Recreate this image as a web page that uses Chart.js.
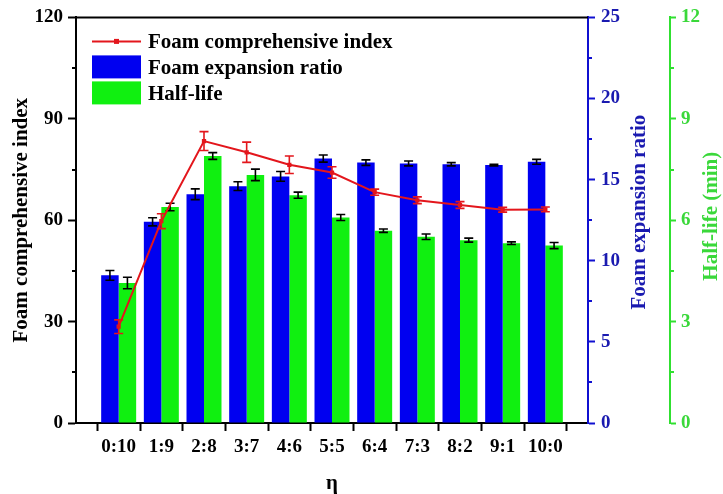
<!DOCTYPE html>
<html>
<head>
<meta charset="utf-8">
<script src="https://cdn.jsdelivr.net/npm/chart.js@4.4.1/dist/chart.umd.min.js"></script>
<style>
  html, body { margin: 0; padding: 0; background: #fff; }
  #wrap { width: 723px; height: 494px; }
</style>
</head>
<body>
<div id="wrap"><canvas id="chart" width="723" height="494"></canvas></div>
<script>
// ─── Data ─────────────────────────────────────────────────────────────────────

var ratios = ['0:10', '1:9', '2:8', '3:7', '4:6', '5:5', '6:4', '7:3', '8:2', '9:1', '10:0'];

var comprehensiveIndex = [28.5, 59.7, 83.4, 80.1, 76.4, 74.1, 68.3, 65.9, 64.5, 63.1, 63.2];
var comprehensiveErr   = [2.0, 2.2, 2.8, 3.0, 2.6, 1.7, 0.9, 1.0, 1.0, 0.7, 0.7];

var expansionRatio = [9.1, 12.4, 14.1, 14.6, 15.2, 16.3, 16.05, 16.0, 15.95, 15.9, 16.1];
var expansionErr   = [0.3, 0.25, 0.33, 0.27, 0.3, 0.22, 0.17, 0.15, 0.1, 0.05, 0.15];

var halfLife    = [4.14, 6.39, 7.9, 7.34, 6.74, 6.08, 5.69, 5.51, 5.41, 5.32, 5.25];
var halfLifeErr = [0.17, 0.11, 0.1, 0.17, 0.09, 0.09, 0.05, 0.08, 0.06, 0.04, 0.09];

var leftTicks  = { min: 0, max: 120, step: 30 };
var blueTicks  = { min: 0, max: 25, step: 5 };
var greenTicks = { min: 0, max: 12, step: 3 };

// ─── Style ────────────────────────────────────────────────────────────────────

var SERIF = "'Liberation Serif', 'Times New Roman', serif";
var RED = '#e3161c', BLUE = '#0000f0', GREEN = '#10f010';
var BLUE_AXIS = '#1010d0', BLUE_TEXT = '#1a1ab0';
var GREEN_AXIS = '#30e030', GREEN_TEXT = '#3ad83a';

// x axis gets an empty slot at each end so the groups sit one step in
var labels = [''].concat(ratios, ['']);
function pad(arr) { return [null].concat(arr, [null]); }

// ─── Plugins ──────────────────────────────────────────────────────────────────

var errorBars = {
    id: 'errorBars',
    afterDatasetDraw(chart, args) {
        const ds = chart.data.datasets[args.index];
        if (!ds.errors) return;
        const yScale = chart.scales[ds.yAxisID];
        const ctx = chart.ctx;
        ctx.save();
        ctx.strokeStyle = ds.errorColor;
        ctx.lineWidth = 1.6;
        args.meta.data.forEach((el, i) => {
            const v = ds.data[i], e = ds.errors[i];
            if (v == null || e == null) return;
            const x = el.x;
            const hi = yScale.getPixelForValue(v + e);
            const lo = yScale.getPixelForValue(v - e);
            ctx.beginPath();
            ctx.moveTo(x, hi); ctx.lineTo(x, lo);
            ctx.moveTo(x - 4.5, hi); ctx.lineTo(x + 4.5, hi);
            ctx.moveTo(x - 4.5, lo); ctx.lineTo(x + 4.5, lo);
            ctx.stroke();
        });
        ctx.restore();
    }
};

function minorTicks(ctx, scale, step, dir, color) {
    ctx.strokeStyle = color;
    ctx.lineWidth = 2;
    const x0 = dir < 0 ? scale.right : scale.left;
    for (let v = scale.min + step / 2; v < scale.max; v += step) {
        const y = Math.round(scale.getPixelForValue(v));
        ctx.beginPath();
        ctx.moveTo(x0, y);
        ctx.lineTo(x0 + dir * 4, y);
        ctx.stroke();
    }
}

var decorations = {
    id: 'decorations',
    afterDraw(chart) {
        const ctx = chart.ctx;
        const area = chart.chartArea;
        const s = chart.scales;
        ctx.save();

        // top frame line
        ctx.strokeStyle = '#000';
        ctx.lineWidth = 2;
        ctx.beginPath();
        ctx.moveTo(area.left - 1, area.top);
        ctx.lineTo(area.right, area.top);
        ctx.stroke();

        minorTicks(ctx, s.y, leftTicks.step, -1, '#000');
        minorTicks(ctx, s.yBlue, blueTicks.step, 1, BLUE_AXIS);
        minorTicks(ctx, s.yGreen, greenTicks.step, 1, GREEN_AXIS);

        // right-hand titles read bottom to top, like the left one
        const titles = [
            { scale: s.yBlue, dx: 52, dy: -8, text: 'Foam expansion ratio', color: BLUE_TEXT },
            { scale: s.yGreen, dx: 42, dy: -4, text: 'Half-life (min)', color: GREEN_TEXT }
        ];
        titles.forEach(t => {
            ctx.save();
            ctx.translate(t.scale.left + t.dx, (area.top + area.bottom) / 2 + t.dy);
            ctx.rotate(-Math.PI / 2);
            ctx.font = 'bold 21px ' + SERIF;
            ctx.fillStyle = t.color;
            ctx.textAlign = 'center';
            ctx.textBaseline = 'middle';
            ctx.fillText(t.text, 0, 0);
            ctx.restore();
        });

        // legend, top-left inside the plot
        const lx = area.left + 16, sw = 49;
        chart.data.datasets.forEach((ds, i) => {
            const cy = area.top + 24 + i * 26;
            if (ds.type === 'line') {
                ctx.strokeStyle = ds.borderColor;
                ctx.lineWidth = 2;
                ctx.beginPath();
                ctx.moveTo(lx, cy); ctx.lineTo(lx + sw, cy);
                ctx.stroke();
                ctx.fillStyle = ds.borderColor;
                ctx.fillRect(lx + sw / 2 - 2.5, cy - 2.5, 5, 5);
            } else {
                ctx.fillStyle = ds.backgroundColor;
                ctx.fillRect(lx, cy - 12, sw, 23);
            }
            ctx.fillStyle = '#000';
            ctx.font = 'bold 21px ' + SERIF;
            ctx.textAlign = 'left';
            ctx.textBaseline = 'middle';
            ctx.fillText(ds.label, lx + sw + 7, cy + 1);
        });

        ctx.restore();
    }
};

// ─── Chart ────────────────────────────────────────────────────────────────────

var tickFont = { family: SERIF, size: 19, weight: 'bold' };

new Chart(document.getElementById('chart'), {
    type: 'bar',
    data: {
        labels: labels,
        datasets: [
            {
                type: 'line',
                label: 'Foam comprehensive index',
                data: pad(comprehensiveIndex),
                errors: pad(comprehensiveErr),
                errorColor: RED,
                yAxisID: 'y',
                borderColor: RED,
                backgroundColor: RED,
                borderWidth: 2,
                pointStyle: 'rect',
                pointRadius: 3,
                pointBorderWidth: 0,
                tension: 0
            },
            {
                label: 'Foam expansion ratio',
                data: pad(expansionRatio),
                errors: pad(expansionErr),
                errorColor: '#000',
                yAxisID: 'yBlue',
                backgroundColor: BLUE,
                borderWidth: 0,
                categoryPercentage: 0.82,
                barPercentage: 1.0
            },
            {
                label: 'Half-life',
                data: pad(halfLife),
                errors: pad(halfLifeErr),
                errorColor: '#000',
                yAxisID: 'yGreen',
                backgroundColor: GREEN,
                borderWidth: 0,
                categoryPercentage: 0.82,
                barPercentage: 1.0
            }
        ]
    },
    options: {
        responsive: false,
        animation: false,
        layout: { padding: { top: 15, left: 0, right: 0, bottom: 0 } },
        plugins: { legend: { display: false }, tooltip: { enabled: false } },
        scales: {
            x: {
                offset: false,
                border: { color: '#000', width: 2 },
                grid: { drawOnChartArea: false, tickLength: 8, tickWidth: 2, tickColor: '#000' },
                ticks: { color: '#000', font: tickFont, padding: 5, maxRotation: 0, autoSkip: false },
                title: { display: true, text: 'η', color: '#000', font: { family: SERIF, size: 21, weight: 'bold', lineHeight: 1 }, padding: { top: 0, bottom: 0 } },
                afterFit(scale) { scale.height = 71; }
            },
            y: {
                position: 'left',
                min: leftTicks.min, max: leftTicks.max,
                border: { color: '#000', width: 2 },
                grid: { drawOnChartArea: false, tickLength: 8, tickWidth: 2, tickColor: '#000' },
                ticks: { stepSize: leftTicks.step, color: '#000', font: tickFont, padding: 5 },
                title: { display: true, text: 'Foam comprehensive index', color: '#000', font: { family: SERIF, size: 21, weight: 'bold' }, padding: { top: 9, bottom: 0 } },
                afterFit(scale) { scale.width = 76; }
            },
            yBlue: {
                position: 'right',
                weight: 0,
                min: blueTicks.min, max: blueTicks.max,
                border: { color: BLUE_AXIS, width: 2 },
                grid: { drawOnChartArea: false, tickLength: 7, tickWidth: 2, tickColor: BLUE_AXIS },
                ticks: { stepSize: blueTicks.step, color: BLUE_TEXT, font: tickFont, padding: 6 },
                afterFit(scale) { scale.width = 82; }
            },
            yGreen: {
                position: 'right',
                weight: 1,
                min: greenTicks.min, max: greenTicks.max,
                border: { color: GREEN_AXIS, width: 2 },
                grid: { drawOnChartArea: false, tickLength: 6, tickWidth: 2, tickColor: GREEN_AXIS },
                ticks: { stepSize: greenTicks.step, color: GREEN_TEXT, font: tickFont, padding: 5 },
                afterFit(scale) { scale.width = 53; }
            }
        }
    },
    plugins: [errorBars, decorations]
});
</script>
</body>
</html>
